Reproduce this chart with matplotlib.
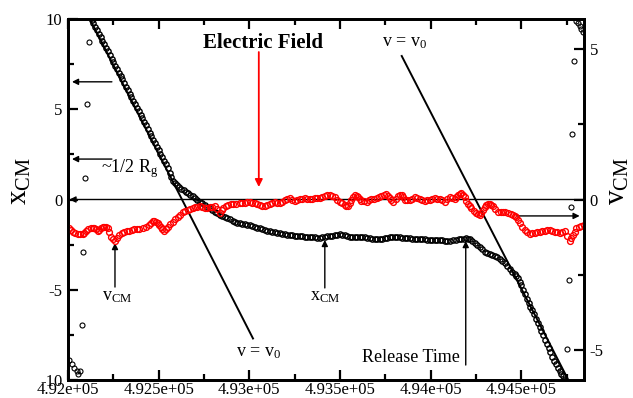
import matplotlib
matplotlib.use("Agg")
import matplotlib.pyplot as plt
from matplotlib.ticker import FixedLocator, FuncFormatter

plt.rcParams['font.family'] = ['Liberation Serif', 'DejaVu Serif']
plt.rcParams['mathtext.fontset'] = 'custom'
plt.rcParams['mathtext.rm'] = 'Liberation Serif'
plt.rcParams['mathtext.it'] = 'Liberation Serif:italic'
plt.rcParams['axes.unicode_minus'] = False

# ---------------- data ----------------
# x_CM (left axis), black open circles
xcm_t = [492130, 492140, 492150, 492160, 492170, 492180, 492190, 492200, 492210, 492220,
         492230, 492240, 492250, 492260, 492270, 492280, 492290, 492300, 492310, 492320,
         492330, 492340, 492350, 492360, 492370, 492380, 492390, 492400, 492410, 492420,
         492430, 492440, 492450, 492460, 492470, 492480, 492490, 492500, 492510, 492520,
         492530, 492540, 492550, 492560, 492570, 492580, 492590, 492600, 492613, 492625,
         492637, 492650, 492662, 492675, 492687, 492700, 492713, 492727, 492741, 492755,
         492768, 492782, 492796, 492810, 492824, 492838, 492851, 492865, 492879, 492893,
         492907, 492920, 492934, 492948, 492962, 492975, 492989, 493003, 493017, 493030,
         493044, 493058, 493072, 493085, 493099, 493113, 493127, 493141, 493155, 493168,
         493182, 493196, 493210, 493223, 493237, 493251, 493265, 493278, 493292, 493306,
         493320, 493333, 493347, 493361, 493375, 493389, 493402, 493416, 493430, 493444,
         493458, 493471, 493485, 493499, 493512, 493526, 493540, 493554, 493568, 493581,
         493595, 493609, 493622, 493636, 493650, 493664, 493678, 493692, 493705, 493719,
         493733, 493747, 493760, 493774, 493788, 493802, 493816, 493829, 493843, 493857,
         493870, 493884, 493898, 493912, 493926, 493940, 493953, 493967, 493981, 493995,
         494008, 494022, 494036, 494050, 494063, 494077, 494091, 494105, 494123, 494142,
         494155, 494169, 494181, 494193, 494204, 494215, 494229, 494243, 494256, 494270,
         494284, 494298, 494311, 494325, 494339, 494353, 494366, 494380, 494394, 494408,
         494421, 494435, 494450, 494463, 494472, 494481, 494490, 494500, 494510, 494520,
         494530, 494540, 494550, 494560, 494570, 494580, 494590, 494600, 494610, 494620,
         494630, 494640, 494650, 494660, 494670, 494680, 494690, 494700, 494710, 494720,
         494730, 494740]
xcm_y = [9.97, 9.78, 9.57, 9.39, 9.18, 8.99, 8.80, 8.59, 8.41, 8.20,
         8.02, 7.81, 7.63, 7.42, 7.24, 7.03, 6.84, 6.65, 6.44, 6.26,
         6.05, 5.86, 5.66, 5.47, 5.27, 5.08, 4.88, 4.69, 4.49, 4.30,
         4.10, 3.90, 3.71, 3.51, 3.32, 3.12, 2.93, 2.73, 2.54, 2.34,
         2.15, 1.95, 1.72, 1.46, 1.22, 1.03, 0.90, 0.78, 0.70, 0.60,
         0.50, 0.42, 0.36, 0.26, 0.17, 0.07, -0.03, -0.12, -0.21, -0.30,
         -0.40, -0.49, -0.59, -0.68, -0.77, -0.86, -0.93, -0.99, -1.05, -1.10,
         -1.17, -1.23, -1.28, -1.32, -1.34, -1.36, -1.39, -1.41, -1.46, -1.51,
         -1.56, -1.60, -1.65, -1.69, -1.72, -1.75, -1.79, -1.82, -1.85, -1.87,
         -1.90, -1.93, -1.95, -1.97, -1.99, -2.01, -2.02, -2.02, -2.04, -2.06,
         -2.06, -2.06, -2.08, -2.09, -2.11, -2.13, -2.10, -2.06, -2.04, -2.02,
         -2.00, -1.97, -1.95, -1.93, -1.94, -1.97, -2.02, -2.06, -2.08, -2.09,
         -2.08, -2.06, -2.07, -2.09, -2.12, -2.15, -2.17, -2.19, -2.20, -2.20,
         -2.18, -2.15, -2.12, -2.09, -2.07, -2.06, -2.07, -2.09, -2.12, -2.15,
         -2.15, -2.15, -2.17, -2.19, -2.20, -2.20, -2.20, -2.20, -2.22, -2.24,
         -2.24, -2.24, -2.25, -2.25, -2.27, -2.28, -2.28, -2.28, -2.27, -2.24,
         -2.21, -2.19, -2.17, -2.15, -2.17, -2.20, -2.29, -2.39, -2.50, -2.61,
         -2.75, -2.89, -2.97, -3.04, -3.08, -3.13, -3.21, -3.30, -3.41, -3.53,
         -3.69, -3.87, -4.01, -4.13, -4.22, -4.37, -4.55, -4.74, -4.99, -5.25,
         -5.51, -5.74, -5.95, -6.14, -6.36, -6.60, -6.84, -7.07, -7.30, -7.53,
         -7.76, -7.99, -8.22, -8.46, -8.70, -8.92, -9.12, -9.31, -9.48, -9.65,
         -9.79, -9.92]

# stray x_CM points near the edges
stray_t = [492116, 492106, 492095, 492084, 492075, 492007, 492020, 492033, 492048, 492057,
           492066, 494803, 494812, 494821, 494831, 494839, 494790, 494781, 494772, 494762,
           494750]
stray_y = [8.71, 5.27, 1.17, -2.89, -6.95, -8.89, -9.11, -9.32, -9.48, -9.67,
           -9.48, 9.91, 9.76, 9.61, 9.43, 9.30, 7.69, 3.63, -0.40, -4.46,
           -8.30]

# v_CM (right axis), red open circles
vcm_t = [492007, 492016, 492026, 492040, 492053, 492067, 492081, 492090, 492099, 492113,
         492127, 492136, 492145, 492155, 492164, 492173, 492182, 492191, 492200, 492210,
         492219, 492228, 492237, 492249, 492261, 492272, 492283, 492297, 492310, 492324,
         492338, 492351, 492365, 492379, 492393, 492411, 492430, 492444, 492457, 492466,
         492476, 492485, 492494, 492503, 492512, 492521, 492531, 492540, 492549, 492563,
         492577, 492590, 492604, 492618, 492632, 492646, 492660, 492673, 492687, 492700,
         492714, 492727, 492741, 492755, 492768, 492782, 492796, 492810, 492824, 492838,
         492847, 492856, 492870, 492883, 492897, 492911, 492929, 492948, 492962, 492975,
         492989, 493003, 493017, 493030, 493044, 493058, 493072, 493085, 493099, 493113,
         493127, 493141, 493155, 493168, 493182, 493196, 493210, 493223, 493237, 493251,
         493265, 493278, 493292, 493306, 493320, 493333, 493347, 493361, 493375, 493389,
         493402, 493416, 493430, 493444, 493458, 493471, 493485, 493499, 493512, 493526,
         493535, 493544, 493554, 493563, 493572, 493581, 493591, 493600, 493609, 493618,
         493632, 493646, 493660, 493673, 493687, 493701, 493715, 493728, 493740, 493751,
         493763, 493774, 493783, 493792, 493806, 493820, 493830, 493839, 493848, 493857,
         493870, 493884, 493898, 493912, 493926, 493940, 493953, 493967, 493981, 493995,
         494008, 494022, 494036, 494050, 494063, 494077, 494091, 494105, 494118, 494132,
         494141, 494150, 494160, 494169, 494178, 494187, 494196, 494205, 494214, 494224,
         494238, 494252, 494261, 494270, 494279, 494288, 494298, 494307, 494316, 494325,
         494334, 494343, 494357, 494371, 494385, 494399, 494412, 494426, 494440, 494454,
         494463, 494472, 494481, 494491, 494504, 494518, 494532, 494546, 494560, 494573,
         494587, 494601, 494615, 494628, 494642, 494656, 494670, 494683, 494697, 494711,
         494725, 494738, 494752, 494766, 494775, 494784, 494794, 494803, 494817, 494830,
         494843]
vcm_v = [-0.96, -1.02, -1.07, -1.12, -1.16, -1.16, -1.15, -1.10, -1.04, -0.99,
         -0.96, -0.94, -0.94, -0.99, -1.04, -1.00, -0.96, -0.92, -0.90, -0.92,
         -0.96, -1.08, -1.24, -1.32, -1.38, -1.28, -1.18, -1.12, -1.07, -1.05,
         -1.04, -1.01, -0.99, -0.98, -0.98, -0.95, -0.90, -0.84, -0.77, -0.73,
         -0.70, -0.74, -0.79, -0.85, -0.90, -0.97, -1.04, -0.97, -0.90, -0.82,
         -0.74, -0.65, -0.57, -0.50, -0.43, -0.38, -0.35, -0.32, -0.29, -0.26,
         -0.24, -0.22, -0.26, -0.29, -0.28, -0.26, -0.24, -0.22, -0.33, -0.44,
         -0.36, -0.29, -0.23, -0.18, -0.16, -0.15, -0.14, -0.13, -0.12, -0.11,
         -0.09, -0.07, -0.10, -0.13, -0.16, -0.18, -0.20, -0.22, -0.19, -0.15,
         -0.11, -0.07, -0.10, -0.13, -0.07, -0.02, 0.01, 0.04, 0.00, -0.04,
         -0.01, 0.01, 0.03, 0.04, 0.03, 0.01, 0.03, 0.04, 0.04, 0.04,
         0.08, 0.12, 0.14, 0.15, 0.11, 0.07, 0.00, -0.07, -0.13, -0.18,
         -0.20, -0.22, -0.12, -0.02, 0.07, 0.15, 0.12, 0.09, 0.03, -0.04,
         -0.06, -0.07, -0.03, 0.01, 0.03, 0.04, 0.08, 0.12, 0.15, 0.18,
         0.11, 0.04, -0.02, -0.07, 0.03, 0.12, 0.14, 0.15, 0.07, -0.02,
         -0.02, -0.02, 0.03, 0.07, 0.04, 0.01, -0.02, -0.04, -0.03, -0.02,
         0.01, 0.04, 0.03, 0.01, -0.03, -0.07, 0.01, 0.09, 0.05, 0.01,
         0.08, 0.15, 0.19, 0.23, 0.15, 0.07, -0.04, -0.15, -0.22, -0.29,
         -0.38, -0.46, -0.49, -0.52, -0.44, -0.35, -0.26, -0.18, -0.16, -0.15,
         -0.18, -0.22, -0.32, -0.41, -0.41, -0.41, -0.42, -0.44, -0.48, -0.52,
         -0.55, -0.57, -0.67, -0.79, -0.90, -1.01, -1.08, -1.15, -1.13, -1.10,
         -1.09, -1.07, -1.05, -1.04, -1.03, -1.01, -1.04, -1.07, -1.09, -1.10,
         -1.07, -1.04, -1.20, -1.37, -1.28, -1.18, -1.07, -0.96, -0.92, -0.88,
         -0.85]

# v = v0 reference lines (left-axis units)
line1_t = [492120, 493020]
line1_y = [10.0, -7.7]
line2_t = [493840, 494750]
line2_y = [7.95, -9.83]

x_limits = (492000, 494845)
x_major = [492000, 492500, 493000, 493500, 494000, 494500]
x_minor = [492250, 492750, 493250, 493750, 494250, 494750]
left_major = [-10, -5, 0, 5, 10]
left_minor = [-7.5, -2.5, 2.5, 7.5]
right_major = [-5, 0, 5]
right_minor = [-2.5, 2.5]

# ---------------- figure ----------------
fig = plt.figure(figsize=(6.33, 3.98), dpi=100)
ax = fig.add_axes([68 / 633, 1 - 380 / 398, 516 / 633, 361 / 398])
ax2 = ax.twinx()

ax.set_xlim(*x_limits)
ax.set_ylim(-10, 10)
ax2.set_ylim(-6, 6)

ax.plot(xcm_t, xcm_y, 'o', mfc='none', mec='black', ms=3.8, mew=1.0)
ax.plot(stray_t, stray_y, 'o', mfc='none', mec='black', ms=3.6, mew=0.8)
ax.plot(line1_t, line1_y, '-', color='black', lw=1.4)
ax.plot(line2_t, line2_y, '-', color='black', lw=1.4)
ax2.plot(vcm_t, vcm_v, 'o', mfc='none', mec='red', ms=4.2, mew=1.0)

ap = dict(arrowstyle='-|>', color='black', lw=1.0, mutation_scale=9, shrinkA=0, shrinkB=0)
# zero line with arrow to the left axis
ax.annotate('', xy=(492008, 0), xytext=(x_limits[1], 0), arrowprops=ap)
# arrows to left axis
ax.annotate('', xy=(492022, 6.52), xytext=(492242, 6.52), arrowprops=ap)
ax.annotate('', xy=(492022, 2.24), xytext=(492242, 2.24), arrowprops=ap)
ax.text(492182, 1.69, '~1/2 R$_\\mathregular{g}$', fontsize=13, ha='left', va='center')
# arrow to right axis
ax.annotate('', xy=(494821, -0.91), xytext=(494474, -0.91), arrowprops=ap)
# electric field
apr = dict(ap, color='red', lw=1.3, mutation_scale=11)
ax.annotate('', xy=(493052, 0.69), xytext=(493052, 8.17), arrowprops=apr)
ax.text(493074, 8.65, 'Electric Field', fontsize=15, fontweight='bold', ha='center', va='center')
# v = v0 labels
ax.text(493856, 8.50, 'v = v$_\\mathregular{0}$', fontsize=13, ha='center', va='baseline')
ax.text(493049, -8.67, 'v = v$_\\mathregular{0}$', fontsize=13, ha='center', va='baseline')
# x_CM, v_CM, release time annotations
ax.annotate('', xy=(493416, -2.24), xytext=(493416, -4.90), arrowprops=ap)
ax.text(493416, -5.57, 'x$_\\mathregular{CM}$', fontsize=13, ha='center', va='baseline')
ax.annotate('', xy=(492259, -2.41), xytext=(492259, -4.85), arrowprops=ap)
ax.text(492270, -5.57, 'v$_\\mathregular{CM}$', fontsize=13, ha='center', va='baseline')
ax.annotate('', xy=(494193, -2.30), xytext=(494193, -9.17), arrowprops=ap)
ax.text(493890, -8.99, 'Release Time', fontsize=13, ha='center', va='baseline')

# ticks
ax.xaxis.set_major_locator(FixedLocator(x_major))
ax.xaxis.set_minor_locator(FixedLocator(x_minor))
ax.xaxis.set_major_formatter(FuncFormatter(lambda v, p: '{:.4g}'.format(v)))
ax.yaxis.set_major_locator(FixedLocator(left_major))
ax.yaxis.set_minor_locator(FixedLocator(left_minor))
ax.yaxis.set_major_formatter(FuncFormatter(lambda v, p: '%d' % v))
ax2.yaxis.set_major_locator(FixedLocator(right_major))
ax2.yaxis.set_minor_locator(FixedLocator(right_minor))
ax2.yaxis.set_major_formatter(FuncFormatter(lambda v, p: '%d' % v))

ax.tick_params(axis='x', which='both', direction='in', top=True, bottom=True,
               labelsize=12, pad=1.5, width=1.6)
ax.tick_params(axis='y', which='both', direction='in', left=True, right=False,
               labelsize=12, pad=4, width=1.6)
ax.tick_params(which='major', length=7)
ax.tick_params(which='minor', length=4)
ax2.tick_params(axis='y', which='both', direction='in', right=True, left=False,
                labelsize=12, pad=4, width=1.6)
ax2.tick_params(which='major', length=7)
ax2.tick_params(which='minor', length=4)

for a in (ax, ax2):
    for s in a.spines.values():
        s.set_linewidth(2.0)

ax.set_ylabel('x$_\\mathregular{CM}$', fontsize=21)
ax.yaxis.set_label_coords(-0.068, 0.55)
ax2.set_ylabel('v$_\\mathregular{CM}$', fontsize=21)
ax2.yaxis.set_label_coords(1.04, 0.55)

fig.savefig('out.png', dpi=100)
